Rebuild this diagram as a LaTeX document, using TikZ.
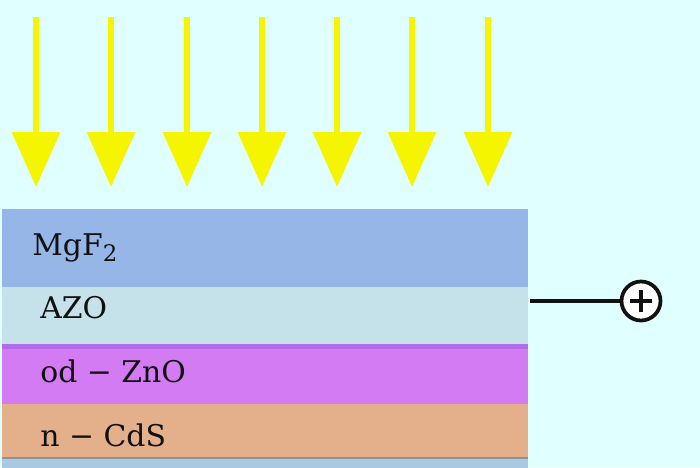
\documentclass[tikz,border=0pt]{standalone}
\usepackage{fontspec}
\setmainfont{DejaVu Serif}
\usetikzlibrary{arrows.meta}
\definecolor{cellbg}{HTML}{E0FFFF}
\definecolor{rayyellow}{HTML}{F5F500}
\definecolor{mgfblue}{HTML}{97B6E8}
\definecolor{azoblue}{HTML}{C5E1EA}
\definecolor{znopink}{HTML}{D27BF2}
\definecolor{znoedge}{HTML}{B56CE8}
\definecolor{cdsorange}{HTML}{E4B08C}
\definecolor{cdsedge}{HTML}{8E9496}
\definecolor{baseblue}{HTML}{A9C9E3}
\definecolor{cellink}{HTML}{111111}

\begin{document}
\begin{tikzpicture}[
  x=0.02cm,
  y=-0.02cm,
  every node/.style={font=\fontsize{17}{20}\selectfont, cellink},
  ray/.style={rayyellow, line width=0.13cm,
    -{Triangle[length=1.1cm, width=0.94cm]}},
  layer/.style={anchor=north west, inner sep=0pt, outer sep=0pt,
    minimum width=10.52cm},
  tag/.style={anchor=base west, inner sep=0pt},
  wire/.style={cellink, line width=0.07cm},
  terminal/.style={circle, draw=cellink, line width=0.075cm, fill=white,
    minimum size=0.78cm, inner sep=0pt},
  plusbar/.style={cellink, line width=0.085cm}
]

  % ---- background and frame ----------------------------------------------
  \fill[cellbg] (0,0) rectangle (700,467);
  \useasboundingbox (0,0) rectangle (700,467);

  % ---- incoming light, seven rays ----------------------------------------
  \foreach \r in {36,111,187,262,337,412,488}
    \draw[ray] (\r,17) -- (\r,187);

  % ---- the layer stack ---------------------------------------------------
  \node[layer, fill=mgfblue,   minimum height=1.56cm] (mgf)  at (2,209) {};
  \node[layer, fill=azoblue,   minimum height=1.14cm] (azo)  at (2,287) {};
  \node[layer, fill=znopink,   minimum height=1.20cm] (zno)  at (2,344) {};
  \node[layer, fill=cdsorange, minimum height=1.10cm] (cds)  at (2,404) {};
  \node[layer, fill=baseblue,  minimum height=0.20cm] (base) at (2,459) {};
  % darker seam on top of od-ZnO, grey seam below n-CdS
  \fill[znoedge] (zno.north west) rectangle ([yshift=-0.09cm]zno.north east);
  \fill[cdsedge] ([yshift=0.04cm]cds.south west) rectangle (cds.south east);

  % ---- layer names -------------------------------------------------------
  \node[tag] (mgftag) at (32,255)
    {MgF\raisebox{-0.45ex}{\fontsize{13}{14}\selectfont 2}};
  \node[tag] (azotag) at (40,318) {AZO};
  \node[tag] (znotag) at (40,382) {od − ZnO};
  \node[tag] (cdstag) at (40,446) {n − CdS};

  % ---- front contact -----------------------------------------------------
  \coordinate (azotap) at (530,301);
  \node[terminal] (plus) at (641,301) {};
  \draw[wire] (azotap) -- (plus.west);
  \draw[plusbar] ([xshift=-0.22cm]plus.center) -- ([xshift=0.22cm]plus.center);
  \draw[plusbar] ([yshift=-0.22cm]plus.center) -- ([yshift=0.22cm]plus.center);

\end{tikzpicture}
\end{document}
